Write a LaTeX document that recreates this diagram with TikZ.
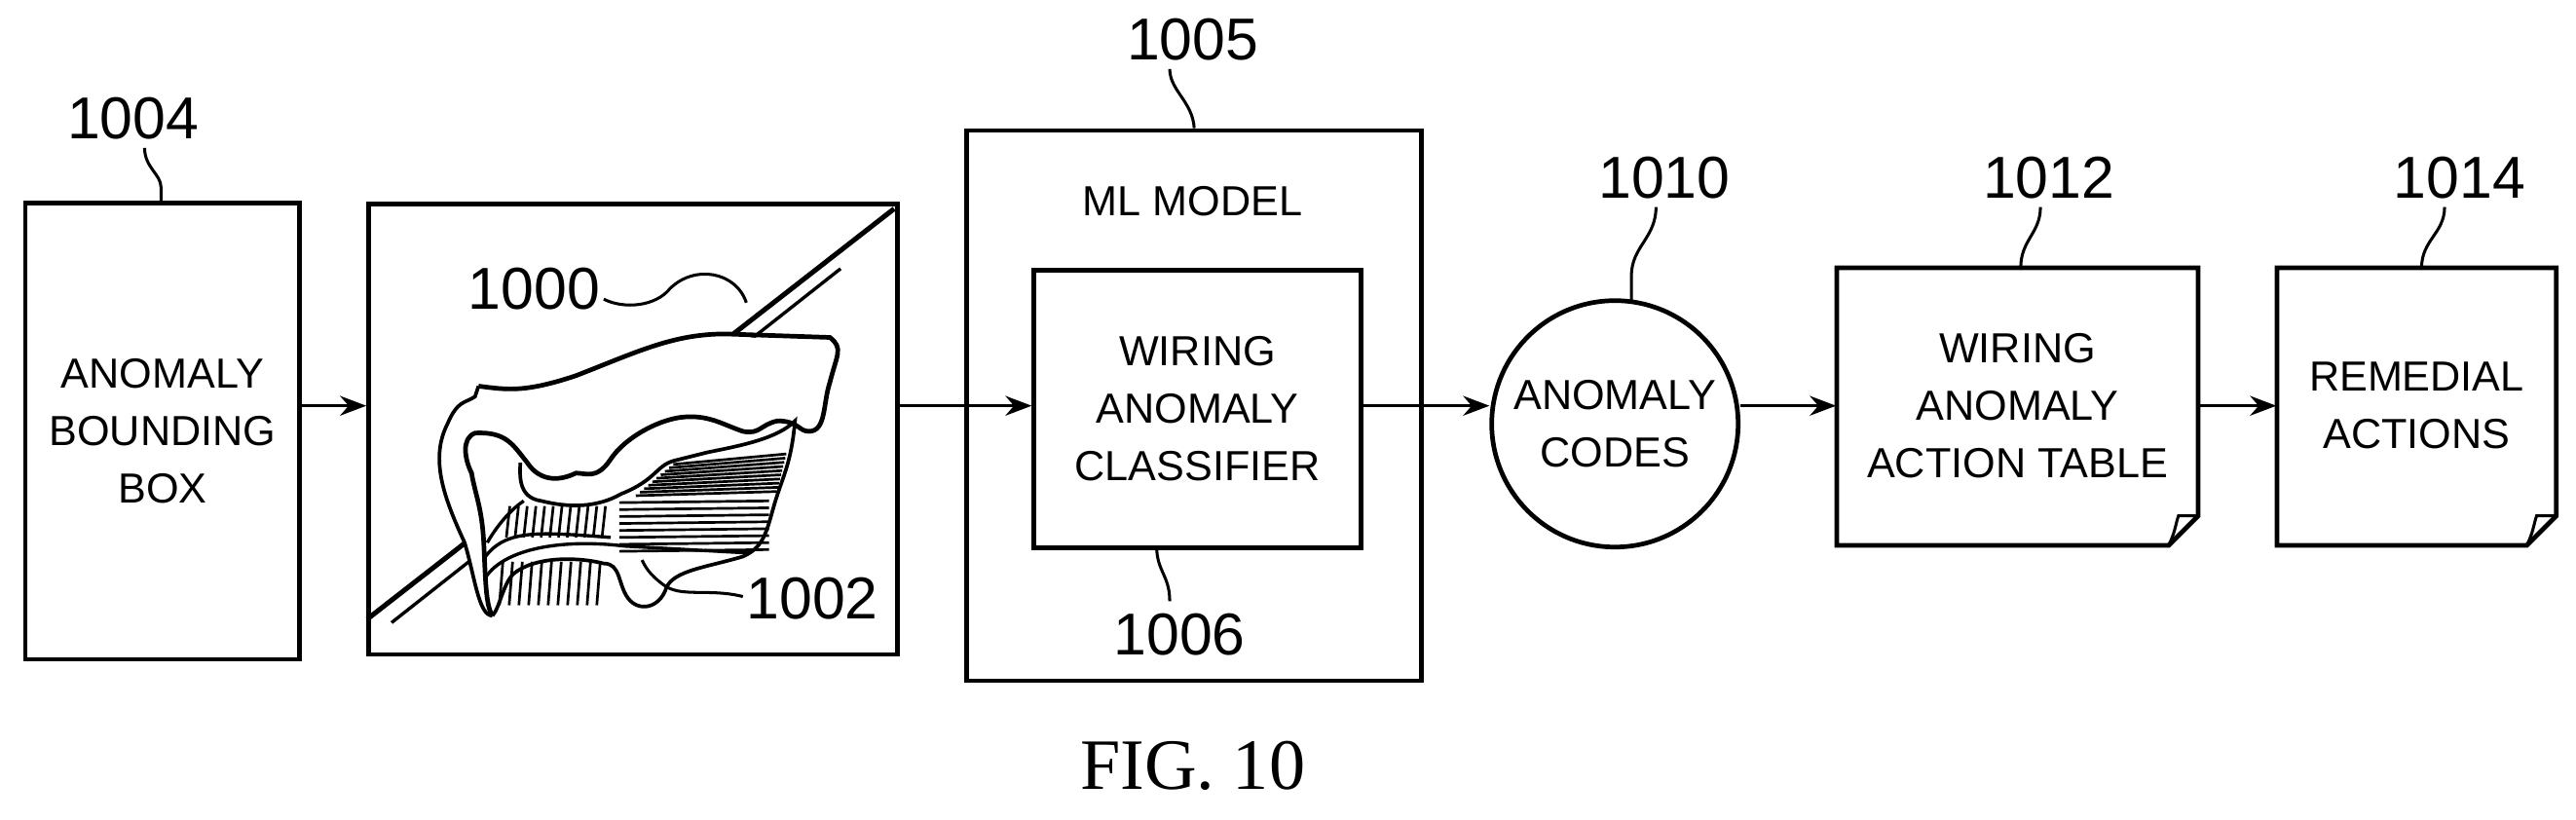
\documentclass[tikz,border=0pt]{standalone}
\usepackage{fontspec}
\setmainfont{Liberation Sans}
\newfontfamily\capfont{Liberation Serif}
\usetikzlibrary{arrows.meta}
\begin{document}
\begin{tikzpicture}[x=0.5pt,y=-0.5pt,
  box/.style={draw,line width=1.4pt,align=center,inner sep=0pt,font=\fontsize{12.8}{17.5}\selectfont},
  txt/.style={align=center,inner sep=0pt,font=\fontsize{12.8}{17.5}\selectfont},
  lbl/.style={font=\fontsize{18}{20}\selectfont,inner sep=1pt},
  lead/.style={line width=0.9pt},
  arr/.style={line width=1pt,-{Stealth[length=8pt,width=6pt]}},
  doc/.style={line width=1.4pt}]
\useasboundingbox (0,0) rectangle (1568,499);
\node[box,minimum width=83.5pt,minimum height=139pt,anchor=north west] (b1004) at (14,122) {ANOMALY\\BOUNDING\\BOX};
\node[box,minimum width=161pt,minimum height=137pt,anchor=north west] (img) at (223,123) {};
\node[box,minimum width=138.5pt,minimum height=167.5pt,anchor=north west] (b1005) at (587,78) {};
\node[txt,anchor=north] (ml) at (726,113) {ML MODEL};
\node[box,minimum width=99.5pt,minimum height=84.5pt,anchor=north west] (b1006) at (628,163) {WIRING\\ANOMALY\\CLASSIFIER};
\node[box,circle,minimum size=75pt] (c1010) at (983,258) {ANOMALY\\CODES};
\draw[doc] (1118,163) -- (1338,163) -- (1338,314) -- (1320,332) -- (1118,332) -- cycle;
\draw[line width=0.9pt] (1320,332) .. controls (1324,324) and (1324,320) .. (1326,314) -- (1338,314);
\node[txt] (t1012) at (1228,247) {WIRING\\ANOMALY\\ACTION TABLE};
\node[minimum width=110pt,minimum height=84.5pt,inner sep=0] (b1012) at (1228,247.5) {};
\draw[doc] (1386,163) -- (1556,163) -- (1556,314) -- (1538,332) -- (1386,332) -- cycle;
\draw[line width=0.9pt] (1538,332) .. controls (1542,324) and (1542,320) .. (1544,314) -- (1556,314);
\node[txt] (t1014) at (1471,247) {REMEDIAL\\ACTIONS};
\node[minimum width=85pt,minimum height=84.5pt,inner sep=0] (b1014) at (1471,247.5) {};
\draw[arr] (b1004.east |- 0,247) -- (img.west |- 0,247);
\draw[arr] (img.east |- 0,247) -- (b1006.west |- 0,247);
\draw[arr] (b1006.east |- 0,247) -- (c1010.west |- 0,247);
\draw[arr] (c1010.east |- 0,247) -- (b1012.west |- 0,247);
\draw[arr] (b1012.east |- 0,247) -- (b1014.west |- 0,247);
\node[lbl] (l1004) at (81,72) {1004};
\draw[lead] (88,90) .. controls (88,102) and (98,106) .. (98,114) -- (b1004.north -| 98,0);
\node[lbl] (l1005) at (726,24) {1005};
\draw[lead] (712,42) .. controls (712,55) and (726,62) .. (b1005.north);
\node[lbl] (l1010) at (1013,108) {1010};
\draw[lead] (1008,126) .. controls (1008,145) and (993,150) .. (993,168) -- (993,184);
\node[lbl] (l1012) at (1247,108) {1012};
\draw[lead] (1242,126) .. controls (1242,142) and (1230,146) .. (1230,163);
\node[lbl] (l1014) at (1497,108) {1014};
\draw[lead] (1488,126) .. controls (1488,142) and (1474,146) .. (1474,163);
\node[lbl] (l1006) at (718,386) {1006};
\draw[lead] (712,366) .. controls (712,350) and (704,348) .. (704,332);
\begin{scope}[shift={(219.3,118.6)},scale=0.2117]
\draw[line width=1.5pt] (20,1220) -- (1535,40);
\draw[line width=1pt,dash pattern=on 70pt off 14pt on 6pt off 14pt] (90,1230) -- (1460,150);
\fill[white] (340,550) -- (1000,400) -- (1370,430) -- (1250,1100) -- (370,1210) -- (220,750) -- cycle;
\draw[line width=1.4pt] (340,550) .. controls (420,560) and (470,570) .. (620,520)
  .. controls (800,450) and (900,400) .. (1050,400) -- (1350,410) .. controls (1390,440) and (1370,460) .. (1350,540)
  .. controls (1330,600) and (1340,680) .. (1290,680) .. controls (1260,680) and (1260,650) .. (1200,650)
  .. controls (1150,660) and (1150,690) .. (1100,680) .. controls (1040,660) and (1000,630) .. (920,640)
  .. controls (850,650) and (760,700) .. (720,760) .. controls (680,820) and (650,800) .. (620,800)
  .. controls (580,820) and (520,830) .. (480,770) .. controls (440,720) and (420,680) .. (330,685)
  .. controls (290,700) and (300,760) .. (320,800) .. controls (330,860) and (350,900) .. (355,1000)
  .. controls (360,1100) and (360,1180) .. (380,1210);
\draw[line width=1.1pt] (380,1210) .. controls (340,1210) and (330,1100) .. (300,1000)
  .. controls (240,870) and (200,760) .. (250,660) .. controls (280,590) and (300,600) .. (330,580) -- (340,550);
\draw[line width=1.1pt] (460,770) .. controls (460,800) and (450,870) .. (520,880)
  .. controls (600,900) and (680,900) .. (750,860) .. controls (850,820) and (850,780) .. (900,765)
  -- (1000,740) .. controls (1100,720) and (1200,700) .. (1250,650)
  .. controls (1240,760) and (1220,800) .. (1200,860) .. controls (1170,950) and (1170,1010) .. (1100,1040)
  .. controls (1000,1070) and (900,1080) .. (880,1130) .. controls (860,1190) and (800,1200) .. (770,1160)
  .. controls (740,1120) and (750,1060) .. (700,1060) .. controls (620,1040) and (500,1040) .. (440,1090)
  .. controls (410,1120) and (400,1190) .. (380,1210);
\draw[line width=1pt] (360,1100) .. controls (420,1010) and (600,990) .. (760,1010) -- (1120,1030);
\draw[line width=1pt] (360,1040) .. controls (420,960) and (520,970) .. (720,985);
\draw[line width=1pt] (365,1000) .. controls (400,940) and (440,900) .. (470,880);
\foreach \i in {0,...,9} {\draw[line width=0.8pt] (900-\i*12,775+\i*10) -- (1225-\i*3,745+\i*12);}
\foreach \i in {0,...,7} {\draw[line width=0.8pt] (745,885+\i*20) -- (1175,880+\i*20);}
\foreach \i in {0,...,11} {\draw[line width=0.8pt] (430+\i*25,895) -- (420+\i*25,985);}
\foreach \i in {0,...,10} {\draw[line width=0.8pt] (410+\i*28,1055) -- (400+\i*28,1180);}
\node[lbl] (l1000) at (500,270) {1000};
\draw[lead] (700,300) .. controls (760,330) and (850,320) .. (890,270) .. controls (960,200) and (1080,220) .. (1110,310);
\node[lbl] (l1002) at (1300,1160) {1002};
\draw[lead] (1100,1155) .. controls (1000,1130) and (920,1160) .. (870,1120) .. controls (830,1090) and (820,1070) .. (810,1050);
\end{scope}
\node[font=\capfont\fontsize{22}{24}\selectfont] (cap) at (726,466) {FIG. 10};
\end{tikzpicture}
\end{document}
